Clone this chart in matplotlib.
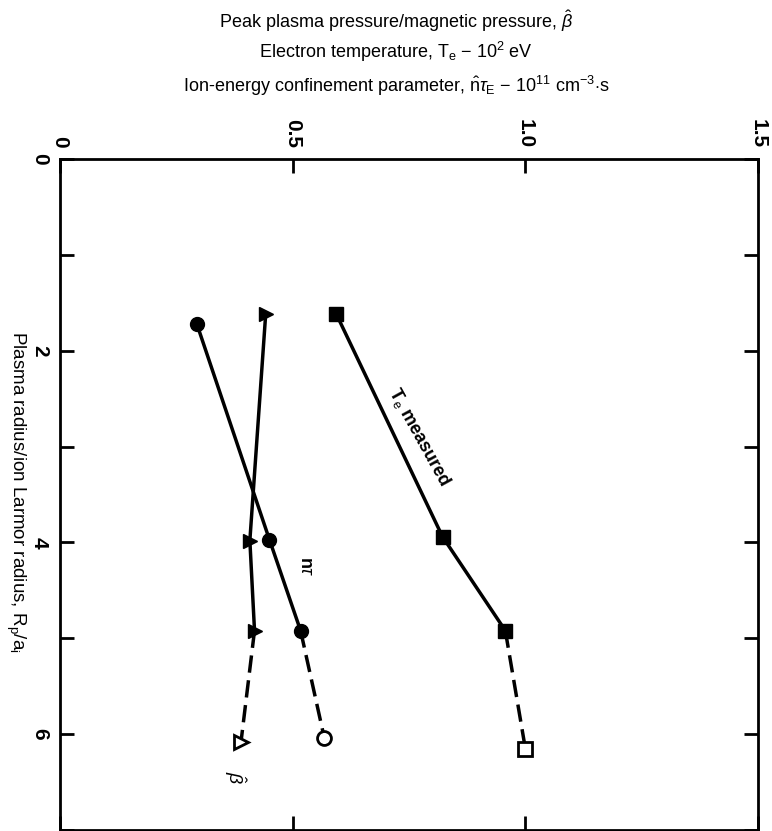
import matplotlib
matplotlib.use('Agg')
import matplotlib.pyplot as plt

plt.rcParams['font.family'] = ['Liberation Sans', 'DejaVu Sans']
plt.rcParams['mathtext.fontset'] = 'custom'
plt.rcParams['mathtext.rm'] = 'Liberation Sans'
plt.rcParams['mathtext.it'] = 'Liberation Sans:italic'
plt.rcParams['mathtext.bf'] = 'Liberation Sans:bold'

# Rp/ai for each point; the last point of each series is the open (extrapolated) one
te_radius = [1.62, 3.94, 4.92, 6.15]
te_value = [0.594, 0.822, 0.957, 1.0]
nt_radius = [1.72, 3.97, 4.92, 6.04]
nt_value = [0.294, 0.45, 0.517, 0.568]
beta_radius = [1.62, 3.98, 4.92, 6.08]
beta_value = [0.442, 0.408, 0.418, 0.389]

value_ticks = [0, 0.5, 1.0, 1.5]
value_labels = ['0', '0.5', '1.0', '1.5']
radius_ticks = [0, 1, 2, 3, 4, 5, 6, 7]
radius_labels = ['0', '', '2', '', '4', '', '6', '']

fig = plt.figure(figsize=(7.72, 8.31), dpi=100)
ax = fig.add_axes([60/772, 1/831, 698/772, 671/831])

series = [(te_value, te_radius, 's'), (nt_value, nt_radius, 'o'), (beta_value, beta_radius, '>')]
for v, r, m in series:
    ax.plot(v[:3], r[:3], '-', color='k', lw=2.5, marker=m, ms=10, zorder=3)
    ax.plot(v[2:], r[2:], color='k', lw=2.5, dashes=(5, 2.2), zorder=2)
    ax.plot(v[3], r[3], ls='none', marker=m, mfc='white', mec='k', ms=10, mew=2, zorder=4)

ax.text(0.772, 2.9, r'T$_\mathrm{e}$ measured', rotation=-61, ha='center', va='center',
        fontsize=13, fontweight='bold')
ax.text(0.528, 4.25, r'n$\tau$', rotation=-90, ha='center', va='center',
        fontsize=13, fontweight='bold')
ax.text(0.375, 6.45, r'$\hat{\beta}$', rotation=-90, ha='center', va='center', fontsize=14)

ax.set_xlim(0, 1.5)
ax.set_ylim(7, 0)
ax.set_xticks(value_ticks)
ax.set_xticklabels(value_labels, rotation=-90, fontweight='bold')
ax.set_yticks(radius_ticks)
ax.set_yticklabels(radius_labels, rotation=-90, va='center', fontweight='bold')
ax.tick_params(axis='both', direction='in', length=10, width=2, labelsize=15,
               top=True, bottom=True, left=True, right=True,
               labeltop=True, labelbottom=False)
ax.tick_params(axis='x', pad=8)
ax.tick_params(axis='y', pad=8)
for s in ax.spines.values():
    s.set_linewidth(2)

fig.text(16/772, 1 - 492/831, r'Plasma radius/ion Larmor radius, R$_\mathrm{p}$/a$_\mathrm{i}$',
         rotation=-90, ha='center', va='center', fontsize=13.5)

fig.text(0.513, 0.975, r'Peak plasma pressure/magnetic pressure, $\hat{\beta}$',
         ha='center', va='center', fontsize=13)
fig.text(0.513, 0.938, r'Electron temperature, T$_\mathrm{e}$ $-$ 10$^2$ eV',
         ha='center', va='center', fontsize=13)
fig.text(0.513, 0.897, r'Ion-energy confinement parameter, $\hat{\mathrm{n}}\tau_\mathrm{E}$ $-$ 10$^{11}$ cm$^{-3}$$\cdot$s',
         ha='center', va='center', fontsize=13)

fig.savefig('out.png', dpi=100)
